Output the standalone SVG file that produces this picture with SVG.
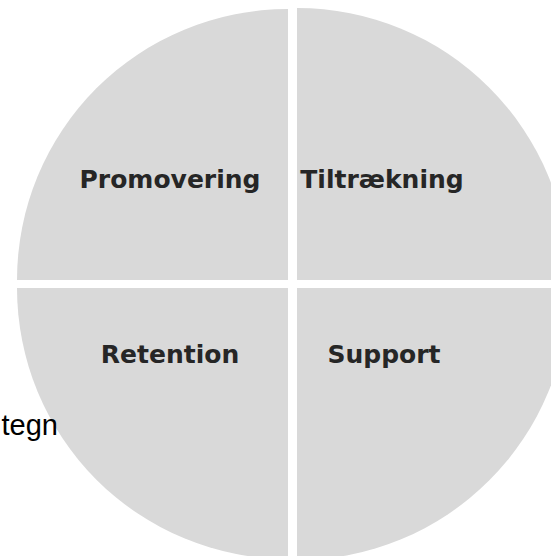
<svg xmlns="http://www.w3.org/2000/svg" width="551" height="556" viewBox="0 0 551 556">
<style>
.q{fill:#d9d9d9}
.lbl{font-family:"DejaVu Sans",Verdana,sans-serif;font-weight:bold;font-size:25px;fill:#262626;text-anchor:middle}
.note{font-family:"Liberation Sans",Arial,sans-serif;font-size:29px;fill:#000;text-anchor:end}
</style>
<rect width="551" height="556" fill="#fff"/>
<g id="promovering">
<path class="q" d="M288,280 L17,280 A271,271 0 0 1 288,9 Z"/>
<text class="lbl" x="170" y="188">Promovering</text>
</g>
<g id="tiltraekning">
<path class="q" d="M297,280 L297,8 A272,272 0 0 1 569,280 Z"/>
<text class="lbl" x="382" y="188">Tiltrækning</text>
</g>
<g id="retention">
<path class="q" d="M288,288 L288,559 A271,271 0 0 1 17,288 Z"/>
<text class="lbl" x="170" y="363">Retention</text>
</g>
<g id="support">
<path class="q" d="M297,288 L569,288 A272,272 0 0 1 297,560 Z"/>
<text class="lbl" x="384" y="363">Support</text>
</g>
<text class="note" x="58" y="435">tegn</text>
<g id="connectors"/>
</svg>
